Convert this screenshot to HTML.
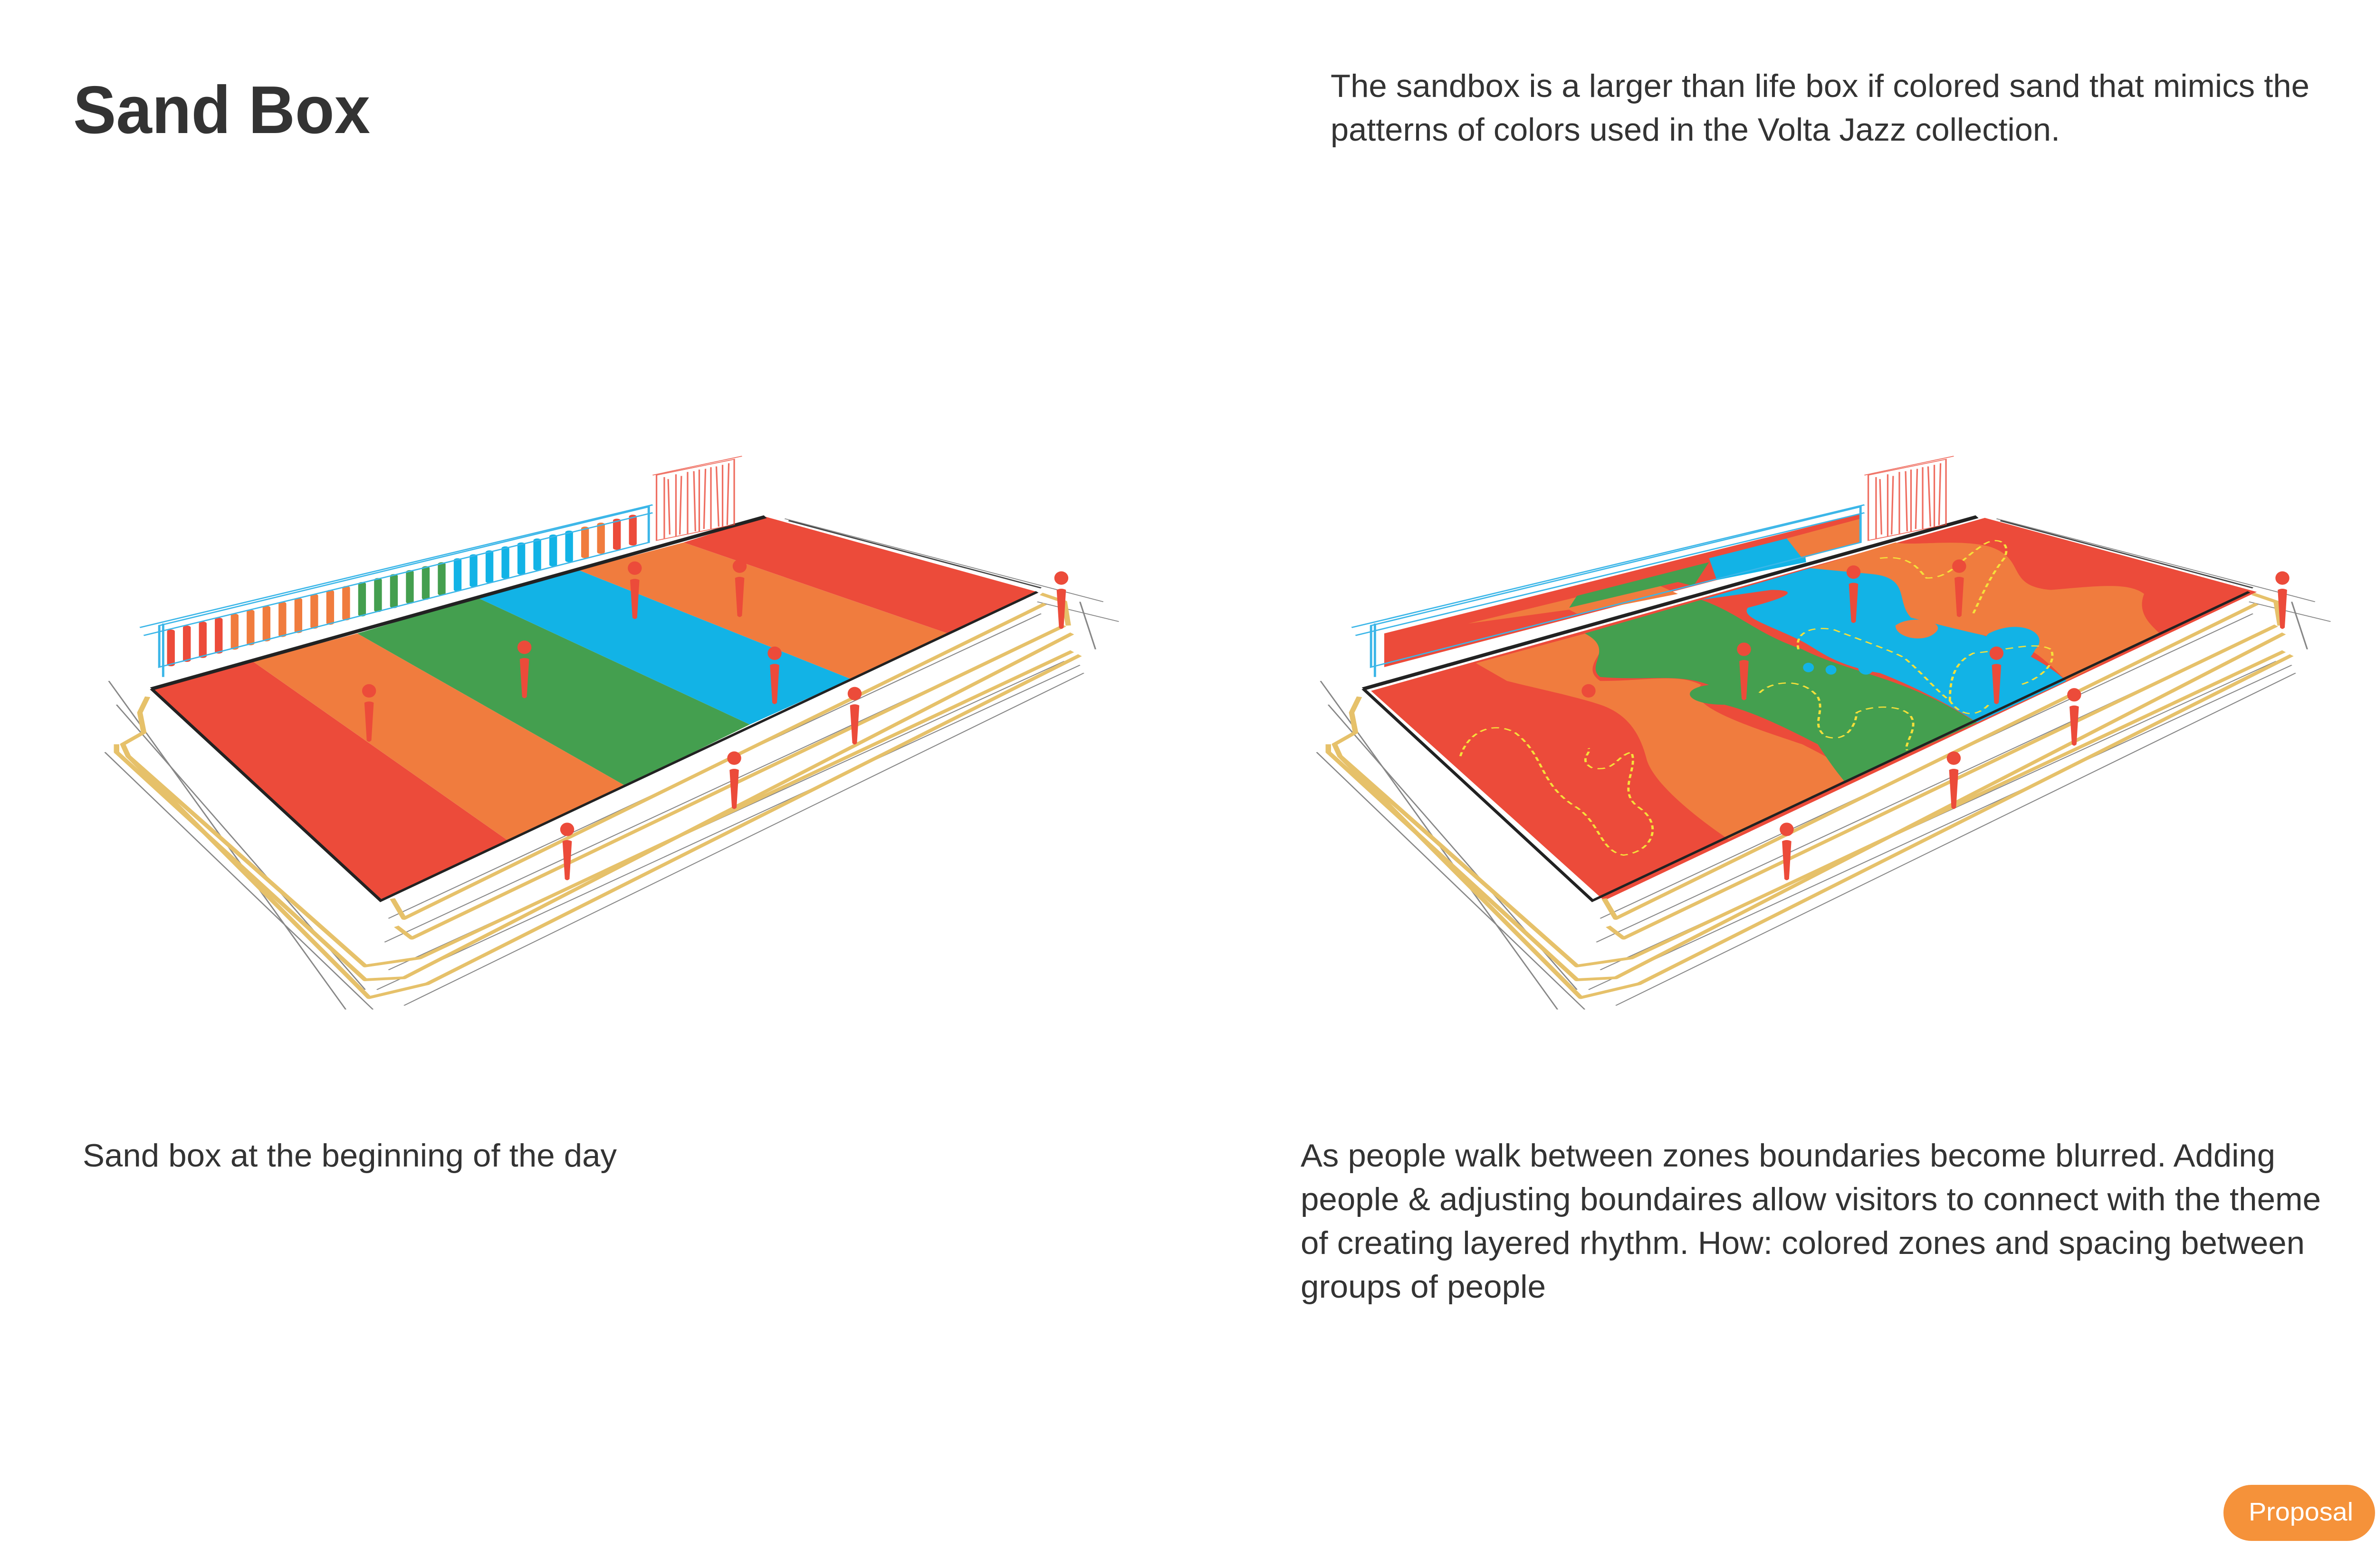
<!DOCTYPE html>
<html><head><meta charset="utf-8"><style>html,body{margin:0;padding:0;background:#fff}svg{display:block}</style></head>
<body>
<svg xmlns="http://www.w3.org/2000/svg" width="5100" height="3300" viewBox="0 0 5100 3300">
<defs>
<g id="base">
  <g fill="none" stroke="#555" stroke-width="2" opacity="0.7">
    <path d="M140,640 L445,1470"/><path d="M135,820 L480,1470"/><path d="M150,700 L470,1420"/>
    <path d="M1010,230 L1420,440"/><path d="M1335,440 L1440,490"/><path d="M1390,440 L1410,560"/>
    <path d="M500,1240 L1340,470"/><path d="M495,1300 L1350,520"/><path d="M500,1370 L1370,590"/>
    <path d="M485,1420 L1390,600"/><path d="M520,1460 L1395,620"/>
  </g>
  <g fill="none" stroke="#e6c16a" stroke-width="7" stroke-linejoin="round">
    <path d="M190,680 L180,720 L185,770 L158,800 L165,830 L470,1360 L540,1340 L1380,565"/>
    <path d="M165,830 L475,1440 L550,1405 L1390,575"/>
    <path d="M150,800 L150,820 L470,1395 L520,1390 L1380,520"/>
    <path d="M505,1190 L520,1240 L1345,445"/>
    <path d="M510,1260 L530,1290 L1370,500"/>
    <path d="M1340,420 L1370,440 L1375,500"/>
  </g>
  <path d="M195,660 L985,225" stroke="#222" stroke-width="8" fill="none"/>
  <path d="M195,660 L490,1195 L1335,415" stroke="#222" stroke-width="5" fill="none"/>
  <path d="M1015,235 L1340,405" stroke="#444" stroke-width="3" fill="none"/>
  <g stroke="#ec4b3a" stroke-width="2" fill="none" opacity="0.8">
    <path d="M845,120 L945,80 L945,245 L845,285 Z"/>
    <path d="M855,125 L855,280 M870,118 L870,275 M885,112 L885,268 M900,106 L900,262 M915,100 L915,256 M930,94 L930,250"/>
    <path d="M860,130 L862,270 M877,122 L875,270 M893,110 L895,262 M908,104 L906,256 M922,98 L925,250 M938,90 L936,246"/>
    <path d="M840,120 L955,72"/>
  </g>
  <g stroke="#3bb6e8" stroke-width="3" fill="none">
    <path d="M205,500 L835,200 L835,290 L205,605 Z"/>
    <path d="M180,505 L840,195 M185,525 L840,215 M210,495 L210,630"/>
  </g>
</g>
<g id="person">
  <ellipse cx="0" cy="0" rx="9" ry="17"/>
  <path d="M-6,30 Q0,24 6,30 L3,125 Q0,132 -3,125 Z"/>
</g>
</defs>

<text x="154" y="280" font-family="Liberation Sans, sans-serif" font-size="142" font-weight="bold" fill="#333" textLength="625" lengthAdjust="spacingAndGlyphs">Sand Box</text>
<g font-family="Liberation Sans, sans-serif" font-size="68" fill="#333">
<text x="2800" y="204" textLength="2060" lengthAdjust="spacingAndGlyphs">The sandbox is a larger than life box if colored sand that mimics the</text>
<text x="2800" y="296" textLength="1535" lengthAdjust="spacingAndGlyphs">patterns of colors used in the Volta Jazz collection.</text>
<text x="174" y="2455" textLength="1124" lengthAdjust="spacingAndGlyphs">Sand box at the beginning of the day</text>
<text x="2737" y="2455" textLength="2051" lengthAdjust="spacingAndGlyphs">As people walk between zones boundaries become blurred. Adding</text>
<text x="2737" y="2547" textLength="2147" lengthAdjust="spacingAndGlyphs">people &amp; adjusting boundaires allow visitors to connect with the theme</text>
<text x="2737" y="2639" textLength="2113" lengthAdjust="spacingAndGlyphs">of creating layered rhythm. How: colored zones and spacing between</text>
<text x="2737" y="2731" textLength="516" lengthAdjust="spacingAndGlyphs">groups of people</text>
</g>
<rect x="4679" y="3125" width="319" height="118" rx="59" fill="#f5923a"/>
<text x="4732" y="3200" font-family="Liberation Sans, sans-serif" font-size="54" fill="#fff" textLength="220" lengthAdjust="spacingAndGlyphs">Proposal</text>

<!-- LEFT -->
<g transform="translate(0,900) scale(1.635,0.833)">
  <g stroke-width="10" stroke-linecap="round">
    <line x1="220" y1="598" x2="220" y2="515" stroke="#ec4b3a"/><line x1="240.5" y1="587" x2="240.5" y2="505" stroke="#ec4b3a"/>
    <line x1="261" y1="577" x2="261" y2="495" stroke="#ec4b3a"/><line x1="281.5" y1="566" x2="281.5" y2="485" stroke="#ec4b3a"/>
    <line x1="302" y1="556" x2="302" y2="475" stroke="#f07c3e"/><line x1="322.5" y1="545" x2="322.5" y2="465" stroke="#f07c3e"/>
    <line x1="343" y1="535" x2="343" y2="455" stroke="#f07c3e"/><line x1="363.5" y1="524" x2="363.5" y2="445" stroke="#f07c3e"/>
    <line x1="384" y1="514" x2="384" y2="435" stroke="#f07c3e"/><line x1="404.5" y1="503" x2="404.5" y2="425" stroke="#f07c3e"/>
    <line x1="425" y1="493" x2="425" y2="415" stroke="#f07c3e"/><line x1="445.5" y1="482" x2="445.5" y2="405" stroke="#f07c3e"/>
    <line x1="466" y1="472" x2="466" y2="395" stroke="#449f4f"/><line x1="486.5" y1="461" x2="486.5" y2="385" stroke="#449f4f"/>
    <line x1="507" y1="451" x2="507" y2="375" stroke="#449f4f"/><line x1="527.5" y1="440" x2="527.5" y2="365" stroke="#449f4f"/>
    <line x1="548" y1="430" x2="548" y2="355" stroke="#449f4f"/><line x1="568.5" y1="419" x2="568.5" y2="345" stroke="#449f4f"/>
    <line x1="589" y1="409" x2="589" y2="335" stroke="#12b3e6"/><line x1="609.5" y1="398" x2="609.5" y2="325" stroke="#12b3e6"/>
    <line x1="630" y1="388" x2="630" y2="315" stroke="#12b3e6"/><line x1="650.5" y1="377" x2="650.5" y2="305" stroke="#12b3e6"/>
    <line x1="671" y1="367" x2="671" y2="295" stroke="#12b3e6"/><line x1="691.5" y1="356" x2="691.5" y2="285" stroke="#12b3e6"/>
    <line x1="712" y1="346" x2="712" y2="275" stroke="#12b3e6"/><line x1="732.5" y1="335" x2="732.5" y2="265" stroke="#12b3e6"/>
    <line x1="753" y1="325" x2="753" y2="255" stroke="#f07c3e"/><line x1="773.5" y1="314" x2="773.5" y2="245" stroke="#f07c3e"/>
    <line x1="794" y1="304" x2="794" y2="235" stroke="#ec4b3a"/><line x1="814.5" y1="293" x2="814.5" y2="225" stroke="#ec4b3a"/>
  </g>
  <polygon points="195,660 325,590 655,1045 490,1195" fill="#ec4b3a"/>
  <polygon points="325,590 460,520 805,905 655,1045" fill="#f07c3e"/>
  <polygon points="460,520 615,430 965,750 805,905" fill="#449f4f"/>
  <polygon points="615,430 745,360 1095,635 965,750" fill="#12b3e6"/>
  <polygon points="745,360 880,290 1220,520 1095,635" fill="#f07c3e"/>
  <polygon points="880,290 985,225 1335,415 1220,520" fill="#ec4b3a"/>
  <use href="#base"/>
  <g fill="#ec4b3a">
    <use href="#person" x="475" y="665"/><use href="#person" x="675" y="555"/>
    <use href="#person" x="817" y="355"/><use href="#person" x="952" y="350"/>
    <use href="#person" x="997" y="570"/><use href="#person" x="1100" y="672"/>
    <use href="#person" x="945" y="835"/><use href="#person" x="730" y="1015"/>
    <use href="#person" x="1366" y="380"/>
  </g>
</g>

<!-- RIGHT -->
<g transform="translate(2550,900) scale(1.635,0.833)">
  <polygon points="222,520 835,218 835,290 222,605" fill="#ec4b3a"/>
  <path d="M330,495 L560,385 L600,420 L470,470 L460,460 Z" fill="#f07c3e"/>
  <path d="M460,455 L600,390 L620,400 L640,340 L470,425 Z" fill="#449f4f"/>
  <path d="M640,330 L760,270 L765,340 L650,385 Z" fill="#12b3e6"/>
  <path d="M740,280 L835,230 L835,290 L760,330 Z" fill="#f07c3e"/>
  <polygon points="205,665 995,228 1345,415 505,1195" fill="#ec4b3a"/>
  <path d="M340,595 L500,510 C520,560 470,600 500,640 C560,640 600,620 630,650 C600,700 700,760 760,800 C800,840 820,860 815,890 L665,1040 C620,980 570,900 560,840 C550,760 530,720 500,700 C470,680 420,660 380,640 Z" fill="#f07c3e"/>
  <path d="M480,520 L630,435 C680,470 700,520 760,560 C800,600 850,620 900,660 C950,700 970,730 985,745 L815,895 C800,860 790,830 780,800 C740,760 700,720 660,700 C610,700 600,660 640,650 C600,620 560,640 500,630 C480,600 520,560 480,520 Z" fill="#449f4f"/>
  <path d="M630,435 L770,355 C820,360 880,340 900,360 C870,420 900,480 960,500 C1000,530 1060,570 1100,640 L985,745 C950,700 900,650 860,620 C800,600 780,560 760,540 C720,500 680,480 690,455 C740,430 760,410 720,410 Z" fill="#12b3e6"/>
  <path d="M770,355 L880,290 C900,300 960,280 1000,300 C1050,330 1020,400 1080,410 C1140,400 1180,390 1200,420 C1190,470 1210,500 1220,520 L1100,640 C1080,600 1060,560 1030,540 C980,520 940,500 900,480 C880,440 900,380 850,370 Z" fill="#f07c3e"/>
  <path d="M880,500 C900,470 950,490 930,520 C915,545 880,530 880,500 Z" fill="#f07c3e"/>
  <path d="M1000,520 C1040,480 1080,520 1060,560 C1050,600 1030,620 1010,640 C990,600 980,560 1000,520 Z" fill="#12b3e6"/>
  <ellipse cx="768" cy="606" rx="7" ry="12" fill="#12b3e6"/><ellipse cx="797" cy="612" rx="7" ry="12" fill="#12b3e6"/><ellipse cx="842" cy="606" rx="10" ry="18" fill="#12b3e6"/>
  <g fill="none" stroke="#f5e03a" stroke-width="3" stroke-dasharray="10,7">
    <path d="M320,830 C330,770 360,740 390,770 C430,830 420,900 470,960 C500,1000 500,1070 530,1080 C570,1070 580,1000 550,960 C520,920 550,860 540,820 C520,830 520,870 490,860 C470,840 490,820 485,810"/>
    <path d="M705,670 C720,640 760,630 780,680 C790,720 770,750 790,780 C820,800 830,740 830,720 C850,700 890,700 900,730 C910,760 890,800 895,815"/>
    <path d="M755,560 C750,520 770,500 800,510 C840,540 870,560 890,580 C910,610 930,660 950,690 C960,720 980,740 1000,700"/>
    <path d="M860,330 C900,320 910,360 920,380 C950,380 960,340 990,300 C1010,270 1030,290 1020,330 C1000,380 990,430 980,470"/>
    <path d="M950,690 C950,620 960,590 980,570 C1030,560 1060,540 1080,560 C1090,600 1060,640 1040,650"/>
  </g>
  <use href="#base"/>
  <g fill="#ec4b3a">
    <use href="#person" x="485" y="665"/><use href="#person" x="685" y="560"/>
    <use href="#person" x="826" y="365"/><use href="#person" x="962" y="350"/>
    <use href="#person" x="1010" y="570"/><use href="#person" x="1110" y="675"/>
    <use href="#person" x="955" y="835"/><use href="#person" x="740" y="1015"/>
    <use href="#person" x="1378" y="380"/>
  </g>
</g>
</svg>
</body></html>
